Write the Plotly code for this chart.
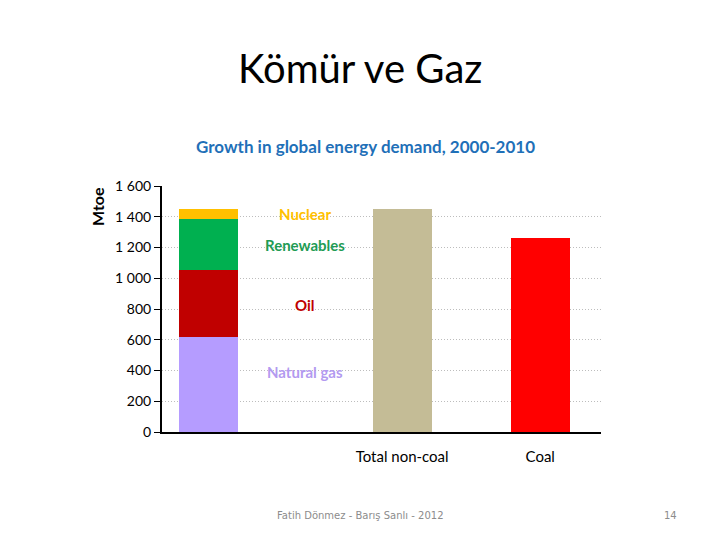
import plotly.graph_objects as go

# stacked growth by fuel, Mtoe
fuels = ['Natural gas', 'Oil', 'Renewables', 'Nuclear']
fuel_values = [620, 435, 330, 65]
fuel_colors = ['#b59cff', '#c00000', '#00b050', '#ffc000']
label_colors = ['#b39af0', '#c00000', '#1f9c55', '#ffc000']
label_y = [390, 826, 1216, 1417]

totals = ['Total non-coal', 'Coal']
total_values = [1450, 1262]
total_colors = ['#c4bc96', '#ff0000']

# positions along the x axis (bar widths as unit)
stack_x = 0.78
label_x = 2.42
total_x = [4.07, 6.41]

yticks = [0, 200, 400, 600, 800, 1000, 1200, 1400, 1600]
yticklabels = ['0', '200', '400', '600', '800', '1 000', '1 200', '1 400', '1 600']

fig = go.Figure()
for name, v, c in zip(fuels, fuel_values, fuel_colors):
    fig.add_trace(go.Bar(x=[stack_x], y=[v], name=name, marker_color=c,
                         width=1.0, marker_line_width=0))
fig.add_trace(go.Bar(x=total_x, y=total_values, marker_color=total_colors,
                     width=1.0, marker_line_width=0))

for name, y, c in zip(fuels, label_y, label_colors):
    fig.add_annotation(x=label_x, y=y, text='<b>' + name + '</b>', showarrow=False,
                       xanchor='center', yanchor='middle',
                       font=dict(family='Lato, Open Sans', size=15, color=c))

fig.update_layout(
    barmode='stack',
    showlegend=False,
    width=720, height=540,
    margin=dict(l=154, r=127, t=178, b=116),
    paper_bgcolor='white', plot_bgcolor='white',
    font=dict(family='Lato, Open Sans', color='black'),
    xaxis=dict(range=[0, 7.44], tickmode='array', tickvals=total_x, ticktext=totals,
               showgrid=False, showline=True, linecolor='black', linewidth=1.5,
               ticks='outside', ticklen=10, tickcolor='rgba(0,0,0,0)',
               tickfont=dict(size=15), zeroline=False),
    yaxis=dict(range=[0, 1600], tickmode='array', tickvals=yticks, ticktext=yticklabels,
               showgrid=True, gridcolor='#bdbdbd', griddash='1px,2px', gridwidth=1,
               showline=True, linecolor='black', linewidth=2, ticks='outside',
               ticklen=6, tickcolor='black', tickfont=dict(size=14), zeroline=False),
)


def page_text(px, py, text, size, color, family='Lato, Open Sans', angle=0):
    # place text at page pixel position (reference coordinates)
    fig.add_annotation(xref='paper', yref='paper', x=(px - 162) / 439, y=(432 - py) / 246,
                       text=text, showarrow=False, xanchor='center', yanchor='middle',
                       textangle=angle, font=dict(family=family, size=size, color=color))


page_text(360, 68, 'Kömür ve Gaz', 40, 'black')
page_text(365, 146, '<b>Growth in global energy demand, 2000-2010</b>', 17, '#1f70b8')
page_text(97, 207, '<b>Mtoe</b>', 16, 'black', angle=-90)
page_text(360, 515, 'Fatih Dönmez - Barış Sanlı - 2012', 10, '#8c8c8c', family='DejaVu Sans')
page_text(670, 515, '14', 10, '#8c8c8c', family='DejaVu Sans')

fig.write_html("out.html")
